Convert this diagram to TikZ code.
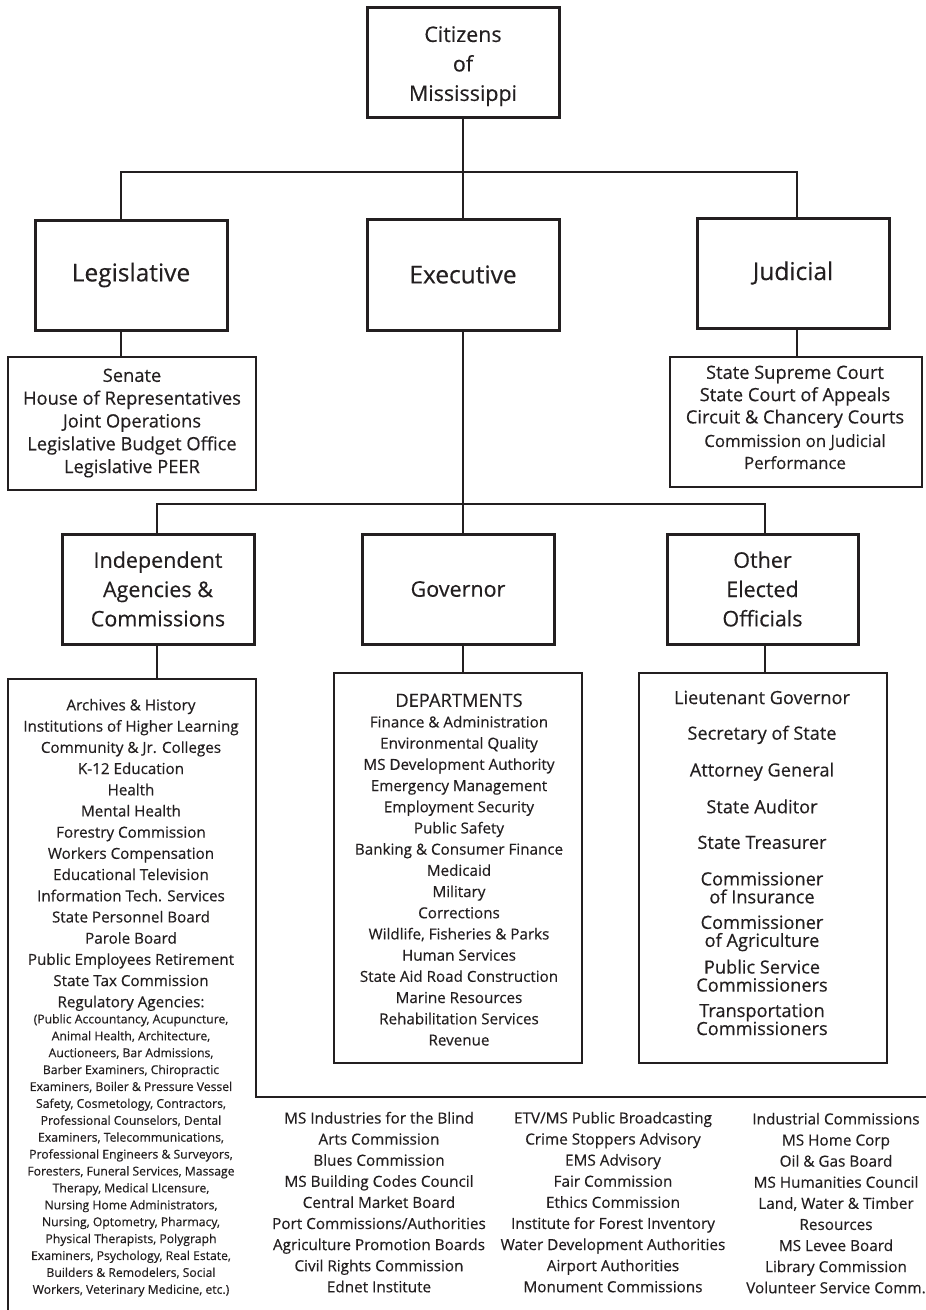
\documentclass[tikz,border=0pt]{standalone}
\usepackage{fontspec}
\setmainfont{Open Sans}[FakeBold=0.4]
\definecolor{ink}{RGB}{35,31,32}
\newcommand{\fsz}[2]{\fontsize{#1}{#2}\selectfont}
\begin{document}
\begin{tikzpicture}[x=1pt,y=-1pt,
  every node/.style={text=ink, inner sep=0pt, outer sep=0pt},
  headbox/.style={draw=ink, line width=3pt, align=center},
  listbox/.style={draw=ink, line width=1.3pt},
  listtext/.style={align=center, anchor=north},
  conn/.style={draw=ink, line width=1.3pt}]
\useasboundingbox (0,0) rectangle (926,1310);

% head boxes
\node[headbox, minimum width=192, minimum height=110, font=\fsz{21.4}{29.5}] (cit) at (463,62) {\rule{0pt}{24pt}Citizens\\of\\Mississippi};
\node[headbox, minimum width=192, minimum height=110, font=\fsz{24.5}{28}] (leg) at (131,275) {Legislative};
\node[headbox, minimum width=192, minimum height=111, font=\fsz{24.5}{28}] (exe) at (463,274.5) {Executive};
\node[headbox, minimum width=192, minimum height=110, font=\fsz{24.5}{28}] (jud) at (793,273) {Judicial};
\node[headbox, minimum width=192, minimum height=110, font=\fsz{21.5}{29.3}] (ind) at (158,589) {Independent\\Agencies \&\\Commissions};
\node[headbox, minimum width=192, minimum height=110, font=\fsz{21.5}{29.3}] (gov) at (458,589) {Governor};
\node[headbox, minimum width=191, minimum height=110, font=\fsz{21.5}{29.3}] (oth) at (762.5,589) {Other\\Elected\\Officials};

% list boxes
\node[listbox, minimum width=248, minimum height=133] (legl) at (132,423.5) {};
\node[listbox, minimum width=252, minimum height=130] (judl) at (796,422) {};
\node[listbox, minimum width=248, minimum height=390] (dep) at (458,868) {};
\node[listbox, minimum width=248, minimum height=390] (othl) at (763,868) {};
\coordinate (indtop) at (157,679);
\draw[listbox] (8,1316) -- (8,679) -- (256,679) -- (256,1097) -- (930,1097);

% bus coordinates
\coordinate (bus1) at (463,172);
\coordinate (bus2) at (463,504);

% connectors
\draw[conn] (cit.south) -- (exe.north);
\draw[conn] ([xshift=-10pt]leg.north) |- ([xshift=4pt]jud.north |- bus1) -- ([xshift=4pt]jud.north);
\draw[conn] ([xshift=-10pt]leg.south) -- ([xshift=-10pt]leg.south |- legl.north);
\draw[conn] ([xshift=4pt]jud.south) -- ([xshift=4pt]jud.south |- judl.north);
\draw[conn] (exe.south) -- (bus2);
\draw[conn] ([xshift=-1pt]ind.north) |- ([xshift=2.5pt]oth.north |- bus2) -- ([xshift=2.5pt]oth.north);
\draw[conn] (bus2) -- ([xshift=5pt]gov.north);
\draw[conn] ([xshift=-1pt]ind.south) -- (indtop);
\draw[conn] ([xshift=5pt]gov.south) -- ([xshift=5pt]gov.south |- dep.north);
\draw[conn] ([xshift=2.5pt]oth.south) -- ([xshift=2.5pt]oth.south |- othl.north);

% texts
\node[listtext, font=\fsz{18.3}{22.8}] (legt) at (132,368.6) {Senate\\House of Representatives\\Joint Operations\\Legislative Budget Office\\Legislative PEER};
\node[listtext, font=\fsz{18.3}{22.3}] (judt1) at (795,365.6) {State Supreme Court\\State Court of Appeals\\Circuit \& Chancery Courts};
\node[listtext, font=\fsz{16.8}{22}] (judt2) at (795,434.2) {Commission on Judicial\\Performance};

\node[listtext, font=\fsz{15.2}{21.2}] (indt) at (131,698.9) {Archives \& History\\Institutions of Higher Learning\\Community \& Jr. Colleges\\K-12 Education\\Health\\Mental Health\\Forestry Commission\\Workers Compensation\\Educational Television\\Information Tech. Services\\State Personnel Board\\Parole Board\\Public Employees Retirement\\State Tax Commission\\Regulatory Agencies:};
\node[listtext, font=\fsz{12.2}{16.9}] (inds) at (131,1014.1) {(Public Accountancy, Acupuncture,\\Animal Health, Architecture,\\Auctioneers, Bar Admissions,\\Barber Examiners, Chiropractic\\Examiners, Boiler \& Pressure Vessel\\Safety, Cosmetology, Contractors,\\Professional Counselors, Dental\\Examiners, Telecommunications,\\Professional Engineers \& Surveyors,\\Foresters, Funeral Services, Massage\\Therapy, Medical LIcensure,\\Nursing Home Administrators,\\Nursing, Optometry, Pharmacy,\\Physical Therapists, Polygraph\\Examiners, Psychology, Real Estate,\\Builders \& Remodelers, Social\\Workers, Veterinary Medicine, etc.)};

\node[listtext, font=\fsz{18.3}{20}] (dept1) at (459,693.6) {DEPARTMENTS};
\node[listtext, font=\fsz{15.2}{21.2}] (dept2) at (459,715.9) {Finance \& Administration\\Environmental Quality\\MS Development Authority\\Emergency Management\\Employment Security\\Public Safety\\Banking \& Consumer Finance\\Medicaid\\Military\\Corrections\\Wildlife, Fisheries \& Parks\\Human Services\\State Aid Road Construction\\Marine Resources\\Rehabilitation Services\\Revenue};

\node[listtext, font=\fsz{18.2}{18}] (otht) at (762,690.7) {Lieutenant Governor\\[17.6pt]Secretary of State\\[17.6pt]Attorney General\\[17.6pt]State Auditor\\[17.6pt]State Treasurer\\[18.5pt]Commissioner\\of Insurance\\[7.5pt]Commissioner\\of Agriculture\\[7.5pt]Public Service\\Commissioners\\[7.5pt]Transportation\\Commissioners};

\node[listtext, font=\fsz{15.3}{21.1}] (col1) at (379,1111.8) {MS Industries for the Blind\\Arts Commission\\Blues Commission\\MS Building Codes Council\\Central Market Board\\Port Commissions/Authorities\\Agriculture Promotion Boards\\Civil Rights Commission\\Ednet Institute};
\node[listtext, font=\fsz{15.3}{21.1}] (col2) at (613,1111.8) {ETV/MS Public Broadcasting\\Crime Stoppers Advisory\\EMS Advisory\\Fair Commission\\Ethics Commission\\Institute for Forest Inventory\\Water Development Authorities\\Airport Authorities\\Monument Commissions};
\node[listtext, font=\fsz{15.3}{21.1}] (col3) at (836,1112.8) {Industrial Commissions\\MS Home Corp\\Oil \& Gas Board\\MS Humanities Council\\Land, Water \& Timber\\Resources\\MS Levee Board\\Library Commission\\Volunteer Service Comm.};
\end{tikzpicture}
\end{document}
